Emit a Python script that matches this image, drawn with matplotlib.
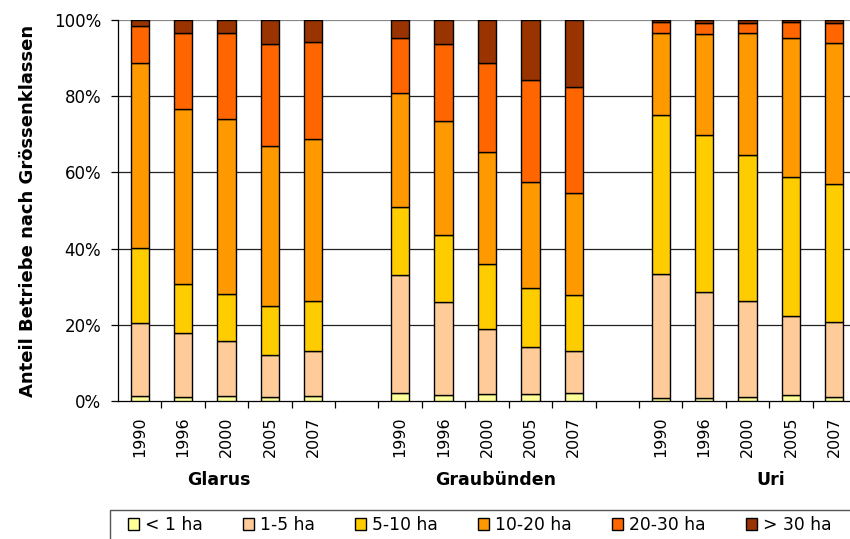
import matplotlib
matplotlib.use("Agg")
import matplotlib.pyplot as plt
from matplotlib.transforms import blended_transform_factory
from matplotlib.patches import Rectangle
import numpy as np

plt.rcParams['font.family'] = ['DejaVu Sans']

groups = ["Glarus", "Graubünden", "Uri"]
years = ["1990", "1996", "2000", "2005", "2007"]
classes = ["< 1 ha", "1-5 ha", "5-10 ha", "10-20 ha", "20-30 ha", "> 30 ha"]
colors = ["#FFFF99", "#FFCC99", "#FFCC00", "#FF9900", "#FF6600", "#993300"]

# percentage shares per size class; order: Glarus(5 years), Graubünden(5), Uri(5)
lt1 = [1.4, 1.0, 1.4, 1.0, 1.4,   2.2, 1.5, 1.8, 1.8, 2.2,   0.8, 0.8, 1.1, 1.5, 1.1]
c1_5 = [19.1, 16.9, 14.3, 11.2, 11.6,   30.9, 24.5, 17.1, 12.4, 10.8,   32.5, 27.8, 25.2, 20.8, 19.7]
c5_10 = [19.6, 12.8, 12.5, 12.7, 13.3,   17.8, 17.5, 17.1, 15.5, 14.8,   41.7, 41.2, 38.3, 36.4, 36.1]
c10_20 = [48.7, 45.9, 45.7, 42.0, 42.5,   30.0, 30.1, 29.4, 27.9, 26.9,   21.6, 26.5, 32.0, 36.7, 37.1]
c20_30 = [9.6, 20.0, 22.7, 26.7, 25.5,   14.5, 20.0, 23.4, 26.7, 27.7,   2.9, 2.9, 2.6, 4.2, 5.2]
gt30 = [1.6, 3.4, 3.4, 6.4, 5.7,   4.6, 6.4, 11.2, 15.7, 17.6,   0.5, 0.8, 0.8, 0.4, 0.8]

series = [lt1, c1_5, c5_10, c10_20, c20_30, gt30]

W, H = 850, 539
fig = plt.figure(figsize=(W / 100, H / 100), dpi=100)
ax = fig.add_axes([118 / W, 1 - 401 / H, (856 - 118) / W, (401 - 20) / H])

n_years = len(years)
x = []
labels = []
for gi, g in enumerate(groups):
    for yi, yr in enumerate(years):
        x.append(gi * (n_years + 1) + yi)
        labels.append(yr)
x = np.array(x, dtype=float)

bottom = np.zeros(len(x))
handles = []
for vals, col, name in zip(series, colors, classes):
    v = np.array(vals)
    b = ax.bar(x, v, bottom=bottom, width=0.42, color=col, edgecolor="black",
               linewidth=1.0, label=name, zorder=3)
    handles.append(b)
    bottom += v

ax.set_xlim(-0.5, len(groups) * (n_years + 1) - 1 - 0.5)
ax.set_ylim(0, 100)

ax.set_yticks(np.arange(0, 101, 20))
ax.set_yticklabels([f"{v}%" for v in range(0, 101, 20)], fontsize=12)
for yv in range(20, 101, 20):
    ax.axhline(yv, color="#222222" if yv < 100 else "#888888", linewidth=0.9, zorder=1)

ax.set_xticks(x)
ax.set_xticklabels(labels, rotation=90, fontsize=11.5)
ax.tick_params(axis="x", which="major", length=0, pad=11)
ax.set_xticks(np.arange(-0.5, len(groups) * (n_years + 1) - 1, 1.0)[1:], minor=True)
ax.tick_params(axis="x", which="minor", length=5, direction="out", width=0.9)
ax.tick_params(axis="y", length=5, direction="out", width=0.9, pad=7)

for s in ["top", "right"]:
    ax.spines[s].set_visible(False)
ax.spines["left"].set_linewidth(0.9)
ax.spines["bottom"].set_linewidth(0.9)

ax.set_ylabel("Anteil Betriebe nach Grössenklassen", fontsize=13, fontweight="bold")
ax.yaxis.set_label_coords(-(118 - 37) / (856 - 118), 0.5)

trans = blended_transform_factory(ax.transData, ax.transAxes)
group_label_x = [1.82, 8.2, 14.54]
for gx, g in zip(group_label_x, groups):
    ax.text(gx, -0.207, g, transform=trans, ha="center", va="center",
            fontsize=12.5, fontweight="bold")

fig.patches.append(Rectangle((110 / W, -0.05), 1.0, (539 - 510) / H + 0.05,
                             transform=fig.transFigure, fill=False,
                             edgecolor="#555555", linewidth=1.0))
leg = fig.legend(handles=handles, labels=classes, loc="center left",
                 bbox_to_anchor=(128 / W, 1 - 525 / H), ncol=6, fontsize=12.3,
                 frameon=False, handlelength=0.65, handleheight=0.65,
                 handletextpad=0.35, columnspacing=2.35, borderpad=0,
                 borderaxespad=0)

fig.savefig("out.png", dpi=100)
